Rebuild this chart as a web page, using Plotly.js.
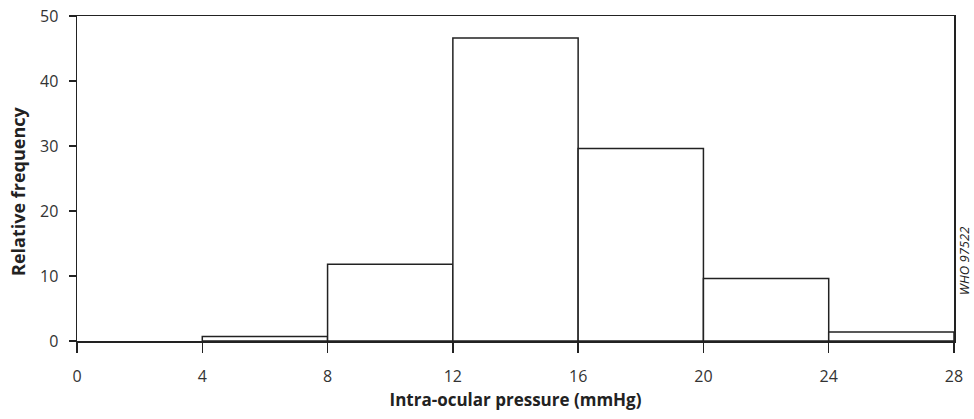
<!DOCTYPE html>
<html>
<head>
<meta charset="utf-8">
<script src="https://cdn.plot.ly/plotly-3.0.1.min.js"></script>
<style>
html,body{margin:0;padding:0;background:#fff;}
#chart{width:974px;height:419px;}
</style>
</head>
<body>
<div id="chart"></div>
<script>
const binStart = [4, 8, 12, 16, 20, 24];
const binWidth = 4;
const relFreq = [0.7, 11.8, 46.6, 29.6, 9.6, 1.4];
const xTicks = [0, 4, 8, 12, 16, 20, 24, 28];
const yTicks = [0, 10, 20, 30, 40, 50];
const xTitle = 'Intra-ocular pressure (mmHg)';
const yTitle = 'Relative frequency';
const figCode = 'WHO 97522';

const centers = binStart.map(s => s + binWidth / 2);

const trace = {
  type: 'bar',
  x: centers,
  y: relFreq,
  width: binStart.map(() => binWidth),
  marker: {color: '#ffffff', line: {color: '#222222', width: 1.5}},
  hoverinfo: 'x+y'
};

const font = "'Open Sans', 'Noto Sans', sans-serif";

const layout = {
  width: 974,
  height: 419,
  margin: {l: 77, r: 20, t: 16, b: 78},
  paper_bgcolor: '#ffffff',
  plot_bgcolor: '#ffffff',
  showlegend: false,
  bargap: 0,
  font: {family: font, color: '#222222', size: 16},
  xaxis: {
    range: [0, 28],
    tickvals: xTicks,
    ticktext: xTicks.map(String),
    ticks: 'outside',
    ticklen: 10,
    tickwidth: 1.5,
    tickcolor: '#222222',
    ticklabelstandoff: 10,
    showgrid: false,
    zeroline: false,
    showline: true,
    linecolor: '#222222',
    linewidth: 1.5,
    mirror: true,
    automargin: false,
    tickfont: {size: 16, family: font, color: '#333333'},
    title: {text: '<b>' + xTitle + '</b>', font: {size: 17, family: font}, standoff: 8}
  },
  yaxis: {
    range: [0, 50],
    tickvals: yTicks,
    ticktext: yTicks.map(String),
    ticks: 'outside',
    ticklen: 7,
    tickwidth: 1.5,
    tickcolor: '#222222',
    ticklabelstandoff: 7,
    showgrid: false,
    zeroline: false,
    showline: true,
    linecolor: '#222222',
    linewidth: 1.5,
    mirror: true,
    automargin: false,
    tickfont: {size: 16, family: font, color: '#333333'}
  },
  annotations: [{
    text: '<b>' + yTitle + '</b>',
    xref: 'paper', yref: 'paper',
    x: -0.0673, y: 0.4615,
    xanchor: 'center', yanchor: 'middle',
    textangle: -90,
    showarrow: false,
    font: {size: 18, family: font, color: '#222222'}
  }, {
    text: '<i>' + figCode + '</i>',
    xref: 'paper', yref: 'paper',
    x: 1.0115, y: 0.246,
    xanchor: 'center', yanchor: 'middle',
    textangle: -90,
    showarrow: false,
    font: {size: 13, family: font, color: '#222222'}
  }]
};

Plotly.newPlot('chart', [trace], layout, {displayModeBar: false, staticPlot: true});
</script>
</body>
</html>
